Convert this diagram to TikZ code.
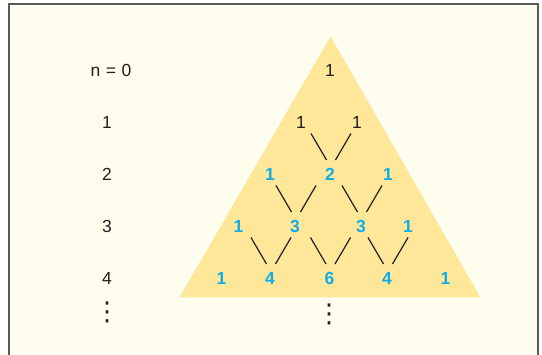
\documentclass[tikz,border=0pt]{standalone}
\usepackage{fontspec}
\setmainfont{Liberation Sans}
\newfontfamily\dvsans{DejaVu Sans}
\usepackage{graphicx}
\usetikzlibrary{calc}
\definecolor{cream}{HTML}{FFFDEE}
\definecolor{tri}{HTML}{FEE799}
\definecolor{numblue}{HTML}{12ACE8}
\definecolor{ink}{HTML}{231F20}
\definecolor{framegray}{HTML}{5A5A5A}
\tikzset{
  lbl/.style={inner sep=0pt, text=ink, font=\fontsize{17.5}{20}\selectfont},
  blk/.style={inner sep=0pt, text=ink, font=\fontsize{17.5}{20}\selectfont},
  blu/.style={inner sep=0pt, text=numblue, font=\fontsize{17.5}{20}\selectfont\bfseries},
  dotsnode/.style={inner sep=0pt, text=ink, font=\dvsans\fontsize{26}{28}\selectfont},
  link/.style={draw=ink, line width=1.2pt},
}
\begin{document}
\begin{tikzpicture}[x=1pt,y=-1pt]
\useasboundingbox (0,0) rectangle (542,355);
\fill[white] (0,0) rectangle (542,355);
\draw[framegray, line width=2pt, fill=cream] (9,4) rectangle (538,370);
% triangle
\fill[tri] (330.5,36.5) -- (480.5,297.5) -- (179.5,297.5) -- cycle;
% left labels
\node[lbl] (n0) at (111,70) {n\hspace{5.5pt}=\hspace{5.5pt}0};
\node[lbl] (n1) at (107,122) {1};
\node[lbl] (n2) at (107,174) {2};
\node[lbl] (n3) at (107,226) {3};
\node[lbl] (n4) at (107,278) {4};
\node[dotsnode] (n5) at (107,312) {⋮};
% triangle numbers
\node[blk] (r0a) at (330,70) {1};
\node[blk] (r1a) at (301,122) {1};
\node[blk] (r1b) at (357,122) {1};
\node[blu] (r2a) at (270,174) {1};
\node[blu] (r2b) at (330,174) {2};
\node[blu] (r2c) at (388,174) {1};
\node[blu] (r3a) at (238.5,226) {1};
\node[blu] (r3b) at (295,226) {3};
\node[blu] (r3c) at (361,226) {3};
\node[blu] (r3d) at (408,226) {1};
\node[blu] (r4a) at (221.5,278) {1};
\node[blu] (r4b) at (270,278) {4};
\node[blu] (r4c) at (329.5,278) {6};
\node[blu] (r4d) at (387,278) {4};
\node[blu] (r4e) at (445.5,278) {1};
\node[dotsnode] (t5) at (329,314) {⋮};
% connectors: "\" from upper-left number, "/" from upper-right number
\draw[link] ($(r2b)+(-19,-40.5)$) -- ($(r2b)+(-3.5,-14)$); % r1a -> r2b
\draw[link] ($(r2b)+(21,-40.5)$) -- ($(r2b)+(5.5,-14)$);   % r1b -> r2b
\draw[link] ($(r3b)+(-19,-40.5)$) -- ($(r3b)+(-3.5,-14)$); % r2a -> r3b
\draw[link] ($(r3b)+(21,-40.5)$) -- ($(r3b)+(5.5,-14)$);   % r2b -> r3b
\draw[link] ($(r3c)+(-19,-40.5)$) -- ($(r3c)+(-3.5,-14)$); % r2b -> r3c
\draw[link] ($(r3c)+(21,-40.5)$) -- ($(r3c)+(5.5,-14)$);   % r2c -> r3c
\draw[link] ($(r4b)+(-19,-40.5)$) -- ($(r4b)+(-3.5,-14)$); % r3a -> r4b
\draw[link] ($(r4b)+(21,-40.5)$) -- ($(r4b)+(5.5,-14)$);   % r3b -> r4b
\draw[link] ($(r4c)+(-19,-40.5)$) -- ($(r4c)+(-3.5,-14)$); % r3b -> r4c
\draw[link] ($(r4c)+(21,-40.5)$) -- ($(r4c)+(5.5,-14)$);   % r3c -> r4c
\draw[link] ($(r4d)+(-19,-40.5)$) -- ($(r4d)+(-3.5,-14)$); % r3c -> r4d
\draw[link] ($(r4d)+(21,-40.5)$) -- ($(r4d)+(5.5,-14)$);   % r3d -> r4d
\end{tikzpicture}
\end{document}
